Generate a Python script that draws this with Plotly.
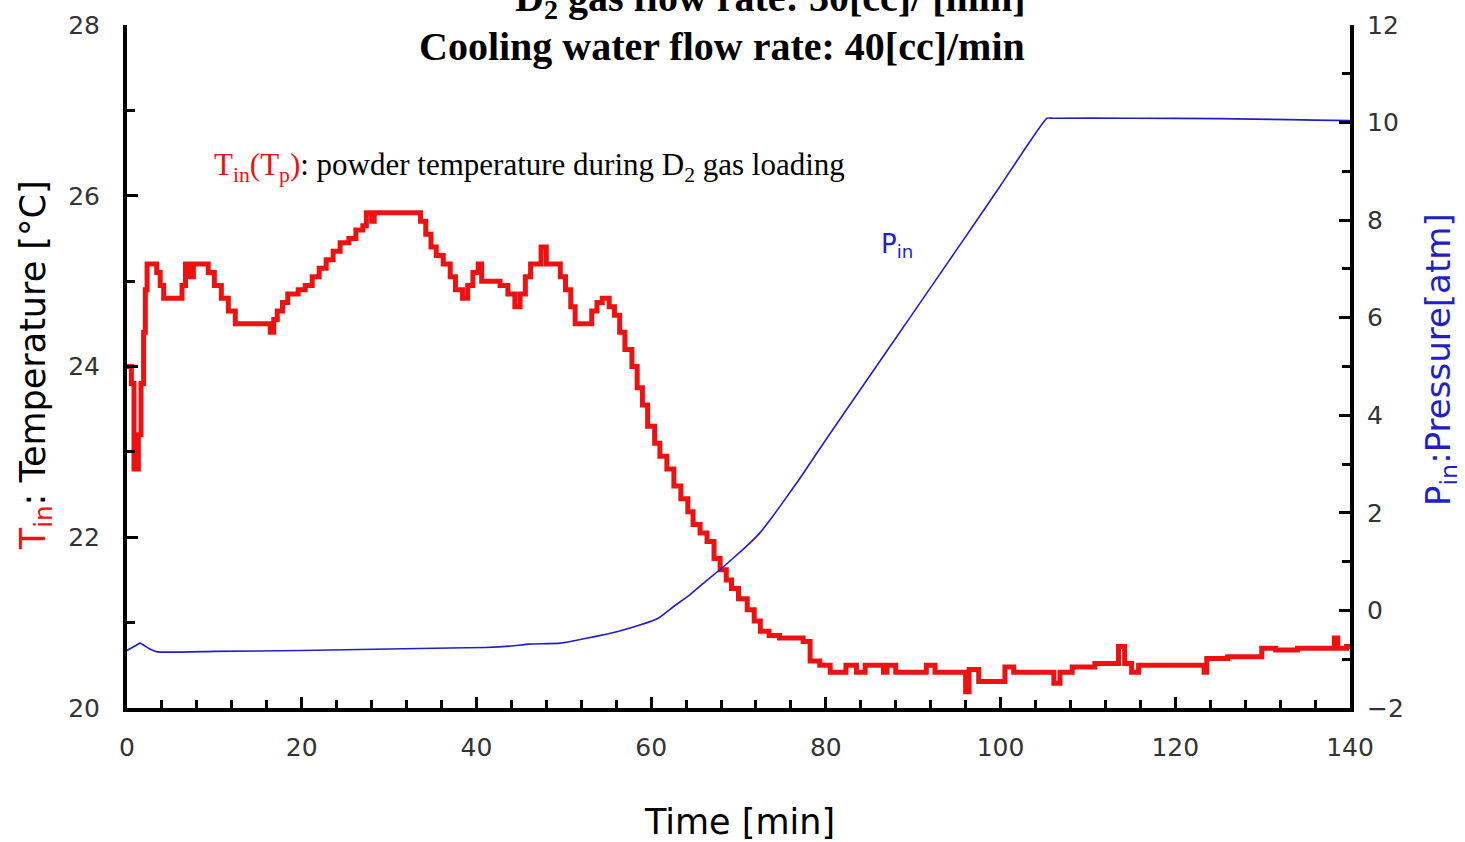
import plotly.graph_objects as go

# ---- Data ----
temp_time = [0, 0.5, 0.8, 1.3, 1.6, 1.9, 2.1, 2.3, 3.4, 3.8, 4.2, 6.3, 6.7, 7.2, 7.6, 9.3, 10.0,
             10.8, 11.6, 12.4, 16.4, 16.8, 17.2, 17.8, 18.4, 19.6, 20.4, 21.2, 22.0, 22.8, 23.6,
             24.4, 25.4, 26.2, 27.0, 27.4, 28.0, 28.3, 33.6, 34.2, 34.8, 35.4, 36.2, 37.0, 37.6,
             38.4, 39.0, 39.6, 40.2, 40.6, 42.7, 43.6, 44.4, 45.0, 45.6, 46.2, 47.4, 48.0, 49.6,
             50.2, 50.8, 51.3, 53.2, 53.8, 54.4, 55.2, 55.8, 56.4, 57.0, 57.8, 58.4, 59.0, 59.6,
             60.4, 61.0, 61.8, 62.6, 63.4, 64.2, 64.8, 65.6, 66.4, 67.2, 67.9, 68.6, 69.2, 70.0,
             71.0, 71.8, 72.5, 73.5, 74.7, 77.4, 78.2, 79.3, 80.5, 82.3, 83.5, 84.5, 86.6, 87.0,
             88.0, 91.5, 92.5, 96.0, 96.4, 97.5, 100.5, 101.5, 102.3, 106.1, 106.8, 108.2, 110.8,
             113.5, 114.2, 115.0, 115.8, 123.3, 123.6, 126.0, 129.9, 131.5, 134.0, 138.2, 138.6,
             139.6, 140.0]
temp_value = [24.0, 23.8, 22.8, 23.2, 23.8, 24.4, 24.9, 25.2, 25.1, 24.95, 24.8, 24.95, 25.2, 25.05,
              25.2, 25.1, 24.95, 24.8, 24.65, 24.5, 24.4, 24.55, 24.65, 24.75, 24.85, 24.9, 24.95,
              25.05, 25.15, 25.25, 25.35, 25.45, 25.5, 25.6, 25.65, 25.8, 25.7, 25.8, 25.7, 25.55,
              25.4, 25.3, 25.2, 25.05, 24.9, 24.8, 24.95, 25.1, 25.2, 25.0, 24.95, 24.85, 24.7,
              24.85, 25.05, 25.2, 25.4, 25.2, 25.05, 24.9, 24.7, 24.5, 24.65, 24.75, 24.8, 24.7,
              24.6, 24.4, 24.2, 24.0, 23.75, 23.55, 23.3, 23.1, 22.95, 22.8, 22.6, 22.45, 22.3,
              22.15, 22.05, 21.95, 21.75, 21.62, 21.5, 21.4, 21.28, 21.15, 21.02, 20.9, 20.85,
              20.82, 20.78, 20.55, 20.5, 20.42, 20.5, 20.42, 20.5, 20.42, 20.5, 20.42, 20.5, 20.42,
              20.19, 20.45, 20.31, 20.48, 20.42, 20.42, 20.29, 20.42, 20.48, 20.52, 20.72, 20.52,
              20.42, 20.5, 20.42, 20.58, 20.6, 20.7, 20.68, 20.7, 20.82, 20.7, 20.72, 20.72]

pres_time = [0, 1.0, 1.5, 2.5, 3.5, 10, 20, 30, 37, 41, 44, 46, 49.6, 52.6, 56.4, 58.7, 60.8,
             62.5, 64.5, 66.4, 68.1, 70.2, 71.3, 72.5, 73.8, 75.1, 77, 80, 85, 90, 95, 100,
             105.3, 106, 115, 125, 133, 136, 140]
pres_value = [-0.82, -0.72, -0.67, -0.78, -0.85, -0.84, -0.82, -0.79, -0.77, -0.76, -0.73, -0.69,
              -0.67, -0.57, -0.42, -0.30, -0.16, 0.07, 0.33, 0.62, 0.87, 1.20, 1.38, 1.60, 1.90,
              2.22, 2.70, 3.50, 4.80, 6.10, 7.40, 8.71, 10.09, 10.09, 10.09, 10.08, 10.06, 10.05,
              10.04]

x_ticks = [0, 20, 40, 60, 80, 100, 120, 140]
temp_ticks = [20, 22, 24, 26, 28]
pres_ticks = [-2, 0, 2, 4, 6, 8, 10, 12]
pres_ticktext = ["\u22122", "0", "2", "4", "6", "8", "10", "12"]

RED = "#ee1111"
BLUE = "#1f1fc8"
TICKFONT = dict(family="DejaVu Sans", size=25, color="#333333")
SANS = "DejaVu Sans"
SERIF = "Liberation Serif"

fig = go.Figure()
fig.add_trace(go.Scatter(x=pres_time, y=pres_value, yaxis="y2", mode="lines",
                         line=dict(color=BLUE, width=1.6, shape="spline", smoothing=0.4),
                         hoverinfo="skip"))
fig.add_trace(go.Scatter(x=temp_time, y=temp_value, mode="lines",
                         line=dict(color=RED, width=5, shape="hv"), hoverinfo="skip"))

fig.update_layout(
    width=1465, height=842,
    margin=dict(l=127, r=115, t=25, b=134),
    plot_bgcolor="white", paper_bgcolor="white",
    showlegend=False,
    xaxis=dict(range=[0, 140], tickvals=x_ticks, showgrid=False, zeroline=False,
               showline=True, linewidth=4, linecolor="black",
               ticks="inside", ticklen=11, tickwidth=3, tickcolor="black",
               minor=dict(dtick=4, tick0=0, ticks="inside", ticklen=8, tickwidth=3,
                          tickcolor="black", showgrid=False),
               tickfont=TICKFONT, ticklabelstandoff=14),
    yaxis=dict(range=[20, 28], tickvals=temp_ticks, showgrid=False, zeroline=False,
               showline=True, linewidth=4, linecolor="black",
               ticks="inside", ticklen=11, tickwidth=3, tickcolor="black",
               minor=dict(dtick=1, tick0=20, ticks="inside", ticklen=8, tickwidth=3,
                          tickcolor="black", showgrid=False),
               tickfont=TICKFONT, ticklabelstandoff=18),
    yaxis2=dict(range=[-2, 12], tickvals=pres_ticks, ticktext=pres_ticktext,
                overlaying="y", side="right", showgrid=False, zeroline=False,
                showline=True, linewidth=4, linecolor="black",
                ticks="inside", ticklen=11, tickwidth=3, tickcolor="black",
                minor=dict(dtick=1, tick0=-2, ticks="inside", ticklen=8, tickwidth=3,
                           tickcolor="black", showgrid=False),
                tickfont=TICKFONT, ticklabelstandoff=8),
)

annotations = [
    dict(text="<b>D<sub>2</sub> gas flow rate: 30[cc]/ [min]</b>", xref="paper", yref="paper",
         x=0.526, y=1.036, xanchor="center", yanchor="middle", showarrow=False,
         font=dict(family=SERIF, size=40, color="black")),
    dict(text="<b>Cooling water flow rate: 40[cc]/min</b>", xref="paper", yref="paper",
         x=0.4865, y=0.968, xanchor="center", yanchor="middle", showarrow=False,
         font=dict(family=SERIF, size=40, color="black")),
    dict(text=f'<span style="color:{RED}">T<sub>in</sub>(T<sub>p</sub>)</span>: powder temperature during D<sub>2</sub> gas loading',
         xref="paper", yref="paper", x=0.3287, y=0.792, xanchor="center", yanchor="middle",
         showarrow=False, font=dict(family=SERIF, size=31, color="black")),
    dict(text="P<sub>in</sub>", xref="x", yref="y2", x=88.1, y=7.49, xanchor="center",
         yanchor="middle", showarrow=False,
         font=dict(family=SANS, size=26, color=BLUE)),
    dict(text=f'<span style="color:{RED}">T<sub>in</sub></span>: Temperature [\u00b0C]',
         xref="paper", yref="paper", x=-0.0752, y=0.502, xanchor="center", yanchor="middle",
         textangle=-90, showarrow=False,
         font=dict(family=SANS, size=35, color="black")),
    dict(text="P<sub>in</sub>:Pressure[atm]", xref="paper", yref="paper", x=1.0736, y=0.5095,
         xanchor="center", yanchor="middle", textangle=-90, showarrow=False,
         font=dict(family=SANS, size=34, color=BLUE)),
    dict(text="Time [min]", xref="paper", yref="paper", x=0.501, y=-0.167, xanchor="center",
         yanchor="middle", showarrow=False,
         font=dict(family=SANS, size=35, color="black")),
]
fig.update_layout(annotations=annotations)

fig.write_html("out.html")
